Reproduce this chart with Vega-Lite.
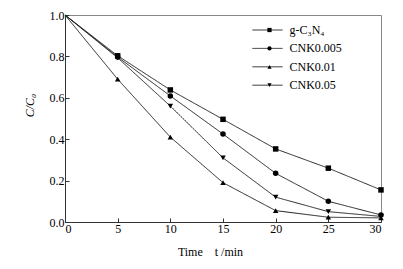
{
  "$schema": "https://vega.github.io/schema/vega-lite/v6.json",
  "width": 316,
  "height": 207,
  "autosize": "none",
  "padding": {"left": 65, "top": 15, "right": 22, "bottom": 47},
  "background": "#ffffff",
  "config": {
    "font": "Liberation Serif",
    "view": {"stroke": "#888888", "strokeWidth": 1},
    "axis": {
      "grid": false,
      "domainColor": "#333333",
      "tickColor": "#333333",
      "tickSize": -4,
      "labelFont": "Liberation Serif",
      "labelFontSize": 12,
      "labelColor": "#000000",
      "titleFont": "Liberation Serif",
      "titleFontSize": 12,
      "titleFontWeight": "normal",
      "titleColor": "#000000"
    }
  },
  "data": {
    "values": [
      {"series": "g-C₃N₄", "t": 0, "c": 1.0},
      {"series": "g-C₃N₄", "t": 5, "c": 0.803},
      {"series": "g-C₃N₄", "t": 10, "c": 0.638},
      {"series": "g-C₃N₄", "t": 15, "c": 0.496},
      {"series": "g-C₃N₄", "t": 20, "c": 0.353},
      {"series": "g-C₃N₄", "t": 25, "c": 0.26},
      {"series": "g-C₃N₄", "t": 30, "c": 0.155},
      {"series": "CNK0.005", "t": 0, "c": 1.0},
      {"series": "CNK0.005", "t": 5, "c": 0.797},
      {"series": "CNK0.005", "t": 10, "c": 0.609},
      {"series": "CNK0.005", "t": 15, "c": 0.425},
      {"series": "CNK0.005", "t": 20, "c": 0.235},
      {"series": "CNK0.005", "t": 25, "c": 0.1},
      {"series": "CNK0.005", "t": 30, "c": 0.034},
      {"series": "CNK0.01", "t": 0, "c": 1.0},
      {"series": "CNK0.01", "t": 5, "c": 0.69},
      {"series": "CNK0.01", "t": 10, "c": 0.41},
      {"series": "CNK0.01", "t": 15, "c": 0.19},
      {"series": "CNK0.01", "t": 20, "c": 0.055},
      {"series": "CNK0.01", "t": 25, "c": 0.023},
      {"series": "CNK0.01", "t": 30, "c": 0.02},
      {"series": "CNK0.05", "t": 0, "c": 1.0},
      {"series": "CNK0.05", "t": 5, "c": 0.793},
      {"series": "CNK0.05", "t": 10, "c": 0.56},
      {"series": "CNK0.05", "t": 15, "c": 0.31},
      {"series": "CNK0.05", "t": 20, "c": 0.12},
      {"series": "CNK0.05", "t": 25, "c": 0.05},
      {"series": "CNK0.05", "t": 30, "c": 0.027}
    ]
  },
  "encoding": {
    "x": {
      "field": "t",
      "type": "quantitative",
      "scale": {"domain": [0, 30], "nice": false, "zero": false},
      "axis": {"values": [0, 5, 10, 15, 20, 25, 30], "title": "Time\u00a0\u00a0\u00a0 t /min", "titlePadding": 12, "labelPadding": 5, "titleX": 145, "titleAlign": "center"}
    },
    "y": {
      "field": "c",
      "type": "quantitative",
      "scale": {"domain": [0, 1], "nice": false},
      "axis": {"values": [0, 0.2, 0.4, 0.6, 0.8, 1.0], "format": ".1f", "title": "C/C₀", "titleFontStyle": "italic", "titlePadding": 13, "labelPadding": 5, "titleY": 90, "titleAlign": "center"}
    }
  },
  "layer": [
    {
      "mark": {"type": "line", "color": "#222222", "strokeWidth": 1},
      "encoding": {
        "strokeDash": {
          "field": "series",
          "type": "nominal",
          "scale": {
            "domain": ["CNK0.05", "CNK0.01", "CNK0.005", "g-C₃N₄"],
            "range": [[1, 0], [1, 0], [1, 0], [1, 0]]
          },
          "legend": {
            "orient": "none",
            "legendX": 196.5,
            "legendY": 9,
            "title": null,
            "padding": 0,
            "labelFont": "Liberation Serif",
            "labelFontSize": 12,
            "labelExpr": "''",
            "symbolType": "M-5.5,0H5.5",
            "symbolSize": 30,
            "symbolStrokeColor": "#222222",
            "symbolStrokeWidth": 1,
            "labelOffset": 14,
            "rowPadding": 6.4
          }
        }
      }
    },
    {
      "transform": [{"filter": "datum.t > 0"}],
      "mark": {"type": "point", "filled": true, "color": "#000000", "size": 30, "opacity": 1},
      "encoding": {
        "shape": {
          "field": "series",
          "type": "nominal",
          "scale": {
            "domain": ["g-C₃N₄", "CNK0.005", "CNK0.01", "CNK0.05"],
            "range": ["square", "circle", "triangle-up", "triangle-down"]
          },
          "legend": {
            "orient": "none",
            "legendX": 198.5,
            "legendY": 9,
            "title": null,
            "padding": 0,
            "labelFont": "Liberation Serif",
            "labelFontSize": 12,
            "labelColor": "#000000",
            "symbolSize": 18,
            "symbolFillColor": "#000000",
            "labelOffset": 14,
            "rowPadding": 6.4
          }
        }
      }
    }
  ]
}
